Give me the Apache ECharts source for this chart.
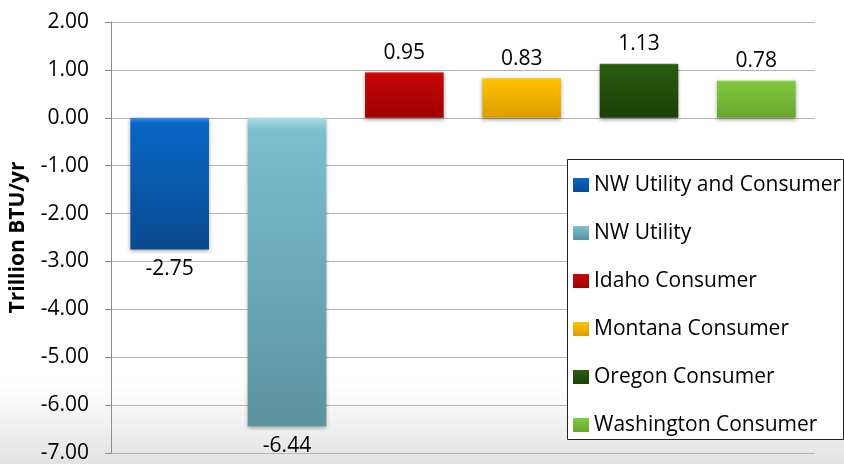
<!DOCTYPE html>
<html>
<head>
<meta charset="utf-8">
<script src="https://cdn.jsdelivr.net/npm/echarts@6/dist/echarts.min.js"></script>
<style>html,body{margin:0;padding:0;background:#fff;}#c{width:844px;height:464px;}</style>
</head>
<body>
<div id="c"></div>
<script>
var categories = ['NW Utility and Consumer', 'NW Utility', 'Idaho Consumer', 'Montana Consumer', 'Oregon Consumer', 'Washington Consumer'];
var values = [-2.75, -6.44, 0.95, 0.83, 1.13, 0.78];
var yTicks = [-7, -6, -5, -4, -3, -2, -1, 0, 1, 2];
var palette = [
  ['#3b8fe4', '#0866c6', '#0a4a8e'],
  ['#aadbe6', '#7cbfcf', '#5b929e'],
  ['#e83030', '#c80606', '#9e0000'],
  ['#ffd54a', '#ffc000', '#dc9e00'],
  ['#3f7d22', '#2a5a10', '#1c3f08'],
  ['#a6e26a', '#80c83e', '#68a72e']
];
var FONT = '"Open Sans", sans-serif';

var series = categories.map(function (name, i) {
  var data = categories.map(function (c, j) { return j === i ? values[i] : '-'; });
  var p = palette[i];
  return {
    name: name,
    type: 'bar',
    data: data,
    barWidth: '67%',
    barGap: '-100%',
    itemStyle: {
      color: new echarts.graphic.LinearGradient(0, 0, 0, 1, [
        {offset: 0, color: p[0]},
        {offset: 0.04, color: p[1]},
        {offset: 1, color: p[2]}
      ]),
      shadowBlur: 4,
      shadowColor: 'rgba(0,0,0,0.35)',
      shadowOffsetY: 2
    },
    label: {
      show: true,
      position: values[i] >= 0 ? 'top' : 'bottom',
      distance: 9,
      color: '#000',
      fontFamily: FONT,
      fontSize: 21,
      formatter: function (d) { return d.value.toFixed(2); }
    }
  };
});

var chart = echarts.init(document.getElementById('c'));
chart.setOption({
  animation: false,
  backgroundColor: 'transparent',
  graphic: [
    {
      type: 'rect', z: -10, silent: true,
      shape: {x: 0, y: 380, width: 844, height: 84},
      style: {fill: new echarts.graphic.LinearGradient(0, 0, 0, 1, [
        {offset: 0, color: 'rgba(230,230,230,0)'},
        {offset: 1, color: '#e2e2e2'}
      ])}
    },
    {
      type: 'rect', z: 3, silent: true,
      shape: {x: 567.5, y: 159.5, width: 276, height: 280},
      style: {fill: '#fff', stroke: '#222', lineWidth: 1}
    }
  ],
  grid: {left: 110, right: 29, top: 22, bottom: 11, containLabel: false},
  legend: {
    orient: 'vertical',
    left: 573,
    top: 173,
    padding: 0,
    itemWidth: 16,
    itemHeight: 14,
    itemGap: 24,
    icon: 'rect',
    z: 5,
    textStyle: {fontFamily: FONT, fontSize: 21, color: '#000', lineHeight: 24},
    data: categories
  },
  xAxis: {
    type: 'category',
    data: categories,
    axisLine: {show: false},
    axisTick: {show: false},
    axisLabel: {show: false},
    splitLine: {show: false}
  },
  yAxis: {
    type: 'value',
    min: yTicks[0],
    max: yTicks[yTicks.length - 1],
    interval: 1,
    name: 'Trillion BTU/yr',
    nameLocation: 'middle',
    nameGap: 82,
    nameRotate: 90,
    nameTextStyle: {fontFamily: FONT, fontSize: 21, fontWeight: 'bold', color: '#000'},
    axisLine: {show: true, lineStyle: {color: '#8c8c8c', width: 1}},
    axisTick: {show: true, length: 6, lineStyle: {color: '#8c8c8c'}},
    axisLabel: {
      fontFamily: FONT, fontSize: 21, color: '#000', margin: 22,
      formatter: function (v) { return v.toFixed(2); }
    },
    splitLine: {show: true, lineStyle: {color: '#b4b4b4', width: 1}}
  },
  series: series
});
</script>
</body>
</html>
